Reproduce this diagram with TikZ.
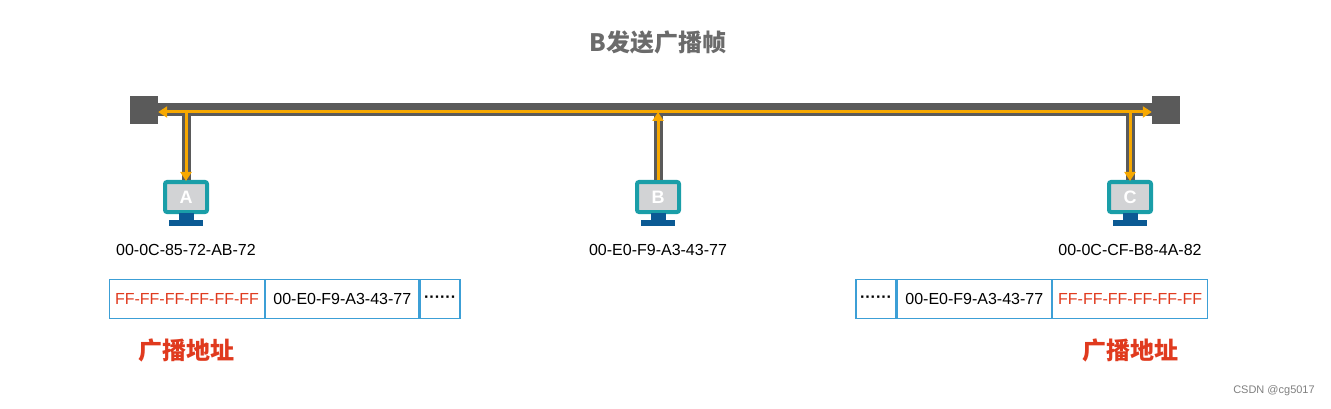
\documentclass[tikz,border=0pt]{standalone}
\usepackage{fontspec}
\setmainfont{Liberation Sans}
\newfontfamily\cjk{Noto Sans CJK SC}
\usetikzlibrary{arrows.meta}
\definecolor{busgray}{HTML}{5A5A5A}
\definecolor{wire}{HTML}{F7A800}
\definecolor{teal}{HTML}{1A9EA8}
\definecolor{scr}{HTML}{D2D3D5}
\definecolor{stand}{HTML}{0B5A94}
\definecolor{cellb}{HTML}{3C9FD6}
\definecolor{redt}{HTML}{E03A1E}
\tikzset{
  endsq/.style={fill=busgray,minimum width=28pt,minimum height=28pt,inner sep=0},
  macl/.style={font=\fontsize{16}{18}\selectfont},
  cell/.style={draw=cellb,line width=1.3pt,minimum height=39pt,inner sep=0,font=\fontsize{16}{18}\selectfont},
  bcast/.style={font=\cjk\bfseries\fontsize{24}{26}\selectfont,text=redt},
  owire/.style={draw=wire,line width=3pt,-{Triangle[length=9pt,width=11pt]}},
}
\newcommand{\pcmon}[3]{%
  \node[draw=teal,line width=4pt,fill=scr,rounded corners=2pt,minimum width=42pt,minimum height=30pt,inner sep=0,text=white,font=\bfseries\fontsize{18}{18}\selectfont] (#1) at (#2,197) {#3};
  \fill[stand] (#2-7.5,213) rectangle (#2+7.5,220);
  \fill[stand] (#2-17,220) rectangle (#2+17,226);
}
\begin{document}
\begin{tikzpicture}[x=1pt,y=-1pt]
\useasboundingbox (0,0) rectangle (1331,409);
\node[font=\cjk\bfseries\fontsize{24}{26}\selectfont,text=busgray!90] (title) at (658,42) {B发送广播帧};
\node[endsq] (L) at (144,110) {};
\node[endsq] (R) at (1166,110) {};
\draw[busgray,line width=13pt] (L.east) -- (R.west);
\pcmon{A}{186}{A}
\pcmon{B}{658}{B}
\pcmon{C}{1130}{C}
\draw[busgray,line width=9pt] (186,111) -- (A.north);
\draw[busgray,line width=9pt] (658,111) -- (B.north);
\draw[busgray,line width=9pt] (1130,111) -- (C.north);
\coordinate (ja) at (186,112);
\coordinate (jb) at (658,112);
\coordinate (jc) at (1130,112);
\draw[owire] (jb|-B.north) -- (jb);
\draw[owire] (jb) -- (L.east|-jb);
\draw[owire] (jb) -- (R.west|-jb);
\draw[owire] (ja) -- ([yshift=-1pt]A.north);
\draw[owire] (jc) -- ([yshift=-1pt]C.north);
\node[macl] (ma) at (186,250) {00-0C-85-72-AB-72};
\node[macl] (mb) at (658,250) {00-E0-F9-A3-43-77};
\node[macl] (mc) at (1130,250) {00-0C-CF-B8-4A-82};
% left frame
\node[cell,minimum width=155pt,text=redt] (a1) at (187,299) {FF-FF-FF-FF-FF-FF};
\node[cell,minimum width=153pt,anchor=west] (a2) at (a1.east) {00-E0-F9-A3-43-77};
\node[cell,minimum width=40pt,anchor=west] (a3) at (a2.east) {\textbf{······}};
% right frame
\node[cell,minimum width=40pt] (c1) at (876,299) {\textbf{······}};
\node[cell,minimum width=154pt,anchor=west] (c2) at (c1.east) {00-E0-F9-A3-43-77};
\node[cell,minimum width=155pt,anchor=west,text=redt] (c3) at (c2.east) {FF-FF-FF-FF-FF-FF};
\node[bcast] (ba) at (186,350) {广播地址};
\node[bcast] (bc) at (1130,350) {广播地址};
\node[font=\fontsize{11}{12}\selectfont,text=gray] (wm) at (1274,391) {CSDN @cg5017};
\end{tikzpicture}
\end{document}
